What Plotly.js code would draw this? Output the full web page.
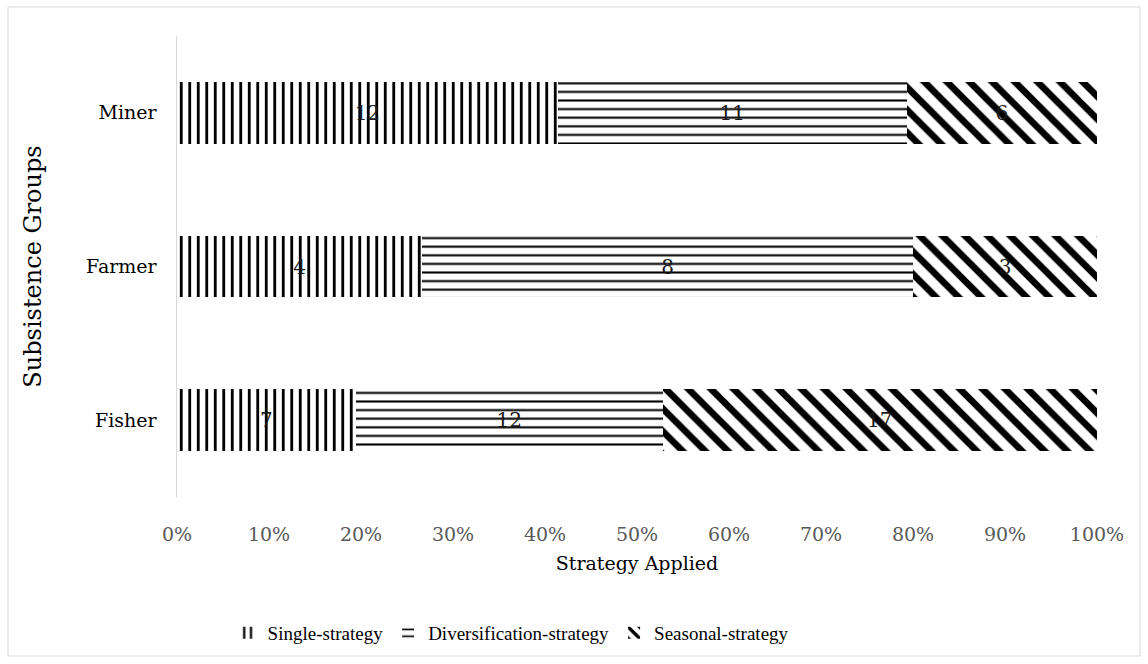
<!DOCTYPE html>
<html>
<head>
<meta charset="utf-8">
<script src="https://cdn.plot.ly/plotly-3.0.1.min.js"></script>
<style>
  html, body { margin: 0; padding: 0; background: #ffffff; }
  #chart { width: 1148px; height: 664px; }
</style>
</head>
<body>
<div id="chart"></div>
<script>
// Subsistence groups (bottom to top on the category axis)
const groups = ['Fisher', 'Farmer', 'Miner'];

// Number of households applying each strategy, per group
const singleStrategy = [7, 4, 12];
const diversificationStrategy = [12, 8, 11];
const seasonalStrategy = [17, 3, 6];

const seriesNames = ['Single-strategy', 'Diversification-strategy', 'Seasonal-strategy'];

// Percentage ticks along the value axis
const tickValues = [0, 0.1, 0.2, 0.3, 0.4, 0.5, 0.6, 0.7, 0.8, 0.9, 1.0];
const tickLabels = ['0%', '10%', '20%', '30%', '40%', '50%', '60%', '70%', '80%', '90%', '100%'];

const serif = 'DejaVu Serif, serif';

function barTrace(name, values, pattern) {
  return {
    type: 'bar',
    orientation: 'h',
    name: name,
    y: groups,
    x: values,
    text: values.map(String),
    textposition: 'inside',
    insidetextanchor: 'middle',
    textangle: 0,
    textfont: { family: serif, size: 20, color: '#1a1a1a' },
    hoverinfo: 'name+x',
    marker: {
      color: '#ffffff',
      line: { width: 0 },
      pattern: Object.assign({ fgcolor: '#000000', bgcolor: '#ffffff', fillmode: 'replace' }, pattern)
    }
  };
}

const data = [
  barTrace(seriesNames[0], singleStrategy, { shape: '|', size: 8.5, solidity: 0.33 }),
  barTrace(seriesNames[1], diversificationStrategy, { shape: '-', size: 8.6, solidity: 0.24 }),
  barTrace(seriesNames[2], seasonalStrategy, { shape: '\\', size: 16, solidity: 0.42 })
];

const layout = {
  width: 1148,
  height: 664,
  paper_bgcolor: '#ffffff',
  plot_bgcolor: '#ffffff',
  margin: { l: 177, r: 51, t: 36, b: 167 },
  barmode: 'stack',
  barnorm: 'fraction',
  bargap: 0.6,
  showlegend: true,
  legend: {
    orientation: 'h',
    x: 0.055,
    xanchor: 'left',
    y: -0.295,
    yanchor: 'middle',
    font: { family: 'Liberation Serif, serif', size: 19, color: '#000000' },
    itemwidth: 30,
    traceorder: 'normal'
  },
  xaxis: {
    range: [0, 1],
    tickvals: tickValues,
    ticktext: tickLabels,
    showgrid: false,
    zeroline: false,
    showline: false,
    ticks: 'outside',
    ticklen: 20,
    tickcolor: 'rgba(0,0,0,0)',
    tickfont: { family: serif, size: 19, color: '#595959' },
    title: {
      text: 'Strategy Applied',
      font: { family: serif, size: 19, color: '#000000' },
      standoff: 12
    },
    fixedrange: true
  },
  yaxis: {
    type: 'category',
    categoryorder: 'array',
    categoryarray: groups,
    showgrid: false,
    zeroline: false,
    showline: true,
    linecolor: '#d9d9d9',
    linewidth: 1.5,
    ticks: 'outside',
    ticklen: 15,
    tickcolor: 'rgba(0,0,0,0)',
    tickfont: { family: serif, size: 19, color: '#000000' },
    title: {
      text: 'Subsistence Groups',
      font: { family: serif, size: 24, color: '#000000' },
      standoff: 37
    },
    fixedrange: true
  },
  shapes: [{
    type: 'rect',
    xref: 'paper',
    yref: 'paper',
    x0: (8 - 177) / 920,
    x1: (1140 - 177) / 920,
    y0: (497 - 656) / 461,
    y1: (497 - 7) / 461,
    line: { color: '#d9d9d9', width: 1 },
    fillcolor: 'rgba(0,0,0,0)',
    layer: 'below'
  }]
};

Plotly.newPlot('chart', data, layout, { displayModeBar: false, staticPlot: true });
</script>
</body>
</html>
